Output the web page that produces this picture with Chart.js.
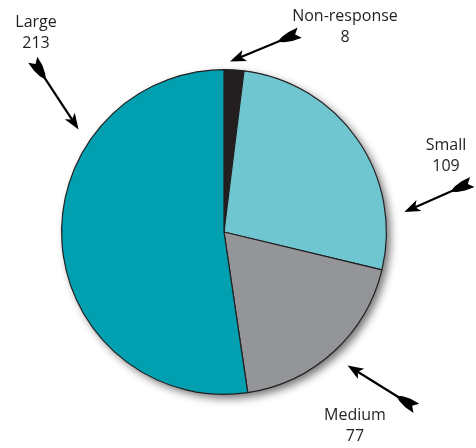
<!DOCTYPE html>
<html>
<head>
<meta charset="utf-8">
<script src="https://cdn.jsdelivr.net/npm/chart.js@4/dist/chart.umd.min.js"></script>
<style>
html,body{margin:0;padding:0;background:#fff;}
#wrap{width:476px;height:448px;}
</style>
</head>
<body>
<div id="wrap"><canvas id="c" width="476" height="448"></canvas></div>
<script>
// Data
const categories = ["Non-response", "Small", "Medium", "Large"];
const counts = [8, 109, 77, 213];
const sliceColors = ["#231f20", "#6fc6d0", "#939598", "#00a0b0"];

// Callout geometry (angle in degrees clockwise from top, distance in pie radii)
const callouts = [
  {tipA: 2.0,   tipR: 1.05,  tailA: 20.8,  tailR: 1.313, lx: 345, ly: 16},
  {tipA: 83.7,  tipR: 1.117, tailA: 78.6,  tailR: 1.56,  lx: 446, ly: 145},
  {tipA: 137.2, tipR: 1.12,  tailA: 132.5, tailR: 1.607, lx: 355, ly: 415},
  {tipA: 305.2, tipR: 1.096, tailA: 312.0, tailR: 1.585, lx: 36,  ly: 22}
];

const shadowPlugin = {
  id: 'pieShadow',
  beforeDatasetsDraw(chart) {
    const arc = chart.getDatasetMeta(0).data[0];
    if (!arc) return;
    const ctx = chart.ctx;
    ctx.save();
    ctx.shadowColor = 'rgba(0,0,0,0.55)';
    ctx.shadowBlur = 9;
    ctx.shadowOffsetX = 4;
    ctx.shadowOffsetY = 4;
    ctx.fillStyle = '#fff';
    ctx.beginPath();
    ctx.arc(arc.x, arc.y, arc.outerRadius, 0, Math.PI * 2);
    ctx.fill();
    ctx.restore();
  }
};

function polar(cx, cy, R, a, r) {
  const t = a * Math.PI / 180;
  return {x: cx + Math.sin(t) * r * R, y: cy - Math.cos(t) * r * R};
}

function drawArrow(ctx, tail, tip) {
  const dx = tip.x - tail.x, dy = tip.y - tail.y;
  const L = Math.hypot(dx, dy);
  const ux = dx / L, uy = dy / L;
  const nx = -uy, ny = ux;
  const col = '#000';
  ctx.save();
  ctx.strokeStyle = col;
  ctx.fillStyle = col;
  ctx.lineWidth = 2.2;
  ctx.beginPath();
  ctx.moveTo(tail.x + ux * 10, tail.y + uy * 10);
  ctx.lineTo(tip.x - ux * 10, tip.y - uy * 10);
  ctx.stroke();
  // arrowhead
  const P = (a, b) => [tip.x + ux * a + nx * b, tip.y + uy * a + ny * b];
  let pts = [P(0, 0), P(-16, 6), P(-12, 0), P(-16, -6)];
  ctx.beginPath();
  ctx.moveTo(...pts[0]);
  for (let i = 1; i < pts.length; i++) ctx.lineTo(...pts[i]);
  ctx.closePath();
  ctx.fill();
  // fletching
  const T = (a, b) => [tail.x + ux * a + nx * b, tail.y + uy * a + ny * b];
  pts = [T(0, 5.5), T(5, 0), T(0, -5.5), T(10, -5), T(18, -3), T(24, 0), T(18, 3), T(10, 5)];
  ctx.beginPath();
  ctx.moveTo(...pts[0]);
  for (let i = 1; i < pts.length; i++) ctx.lineTo(...pts[i]);
  ctx.closePath();
  ctx.fill();
  ctx.restore();
}

const calloutPlugin = {
  id: 'callouts',
  afterDraw(chart) {
    const meta = chart.getDatasetMeta(0);
    const arc0 = meta.data[0];
    if (!arc0) return;
    const cx = arc0.x, cy = arc0.y, R = arc0.outerRadius;
    const ctx = chart.ctx;
    const values = chart.data.datasets[0].data;
    chart.data.labels.forEach((lab, i) => {
      const c = callouts[i];
      const tip = polar(cx, cy, R, c.tipA, c.tipR);
      const tail = polar(cx, cy, R, c.tailA, c.tailR);
      drawArrow(ctx, tail, tip);
      ctx.save();
      ctx.fillStyle = '#231f20';
      ctx.font = '16px "Open Sans", sans-serif';
      ctx.textAlign = 'center';
      ctx.textBaseline = 'middle';
      ctx.fillText(lab, c.lx, c.ly);
      ctx.fillText(String(values[i]), c.lx, c.ly + 21);
      ctx.restore();
    });
  }
};

new Chart(document.getElementById('c'), {
  type: 'pie',
  data: {
    labels: categories,
    datasets: [{
      data: counts,
      backgroundColor: sliceColors,
      borderColor: '#231f20',
      borderWidth: 1.2,
      borderAlign: 'center'
    }]
  },
  options: {
    responsive: false,
    animation: false,
    layout: {padding: {left: 61, right: 89, top: 69, bottom: 53}},
    plugins: {legend: {display: false}, tooltip: {enabled: false}}
  },
  plugins: [shadowPlugin, calloutPlugin]
});
</script>
</body>
</html>
